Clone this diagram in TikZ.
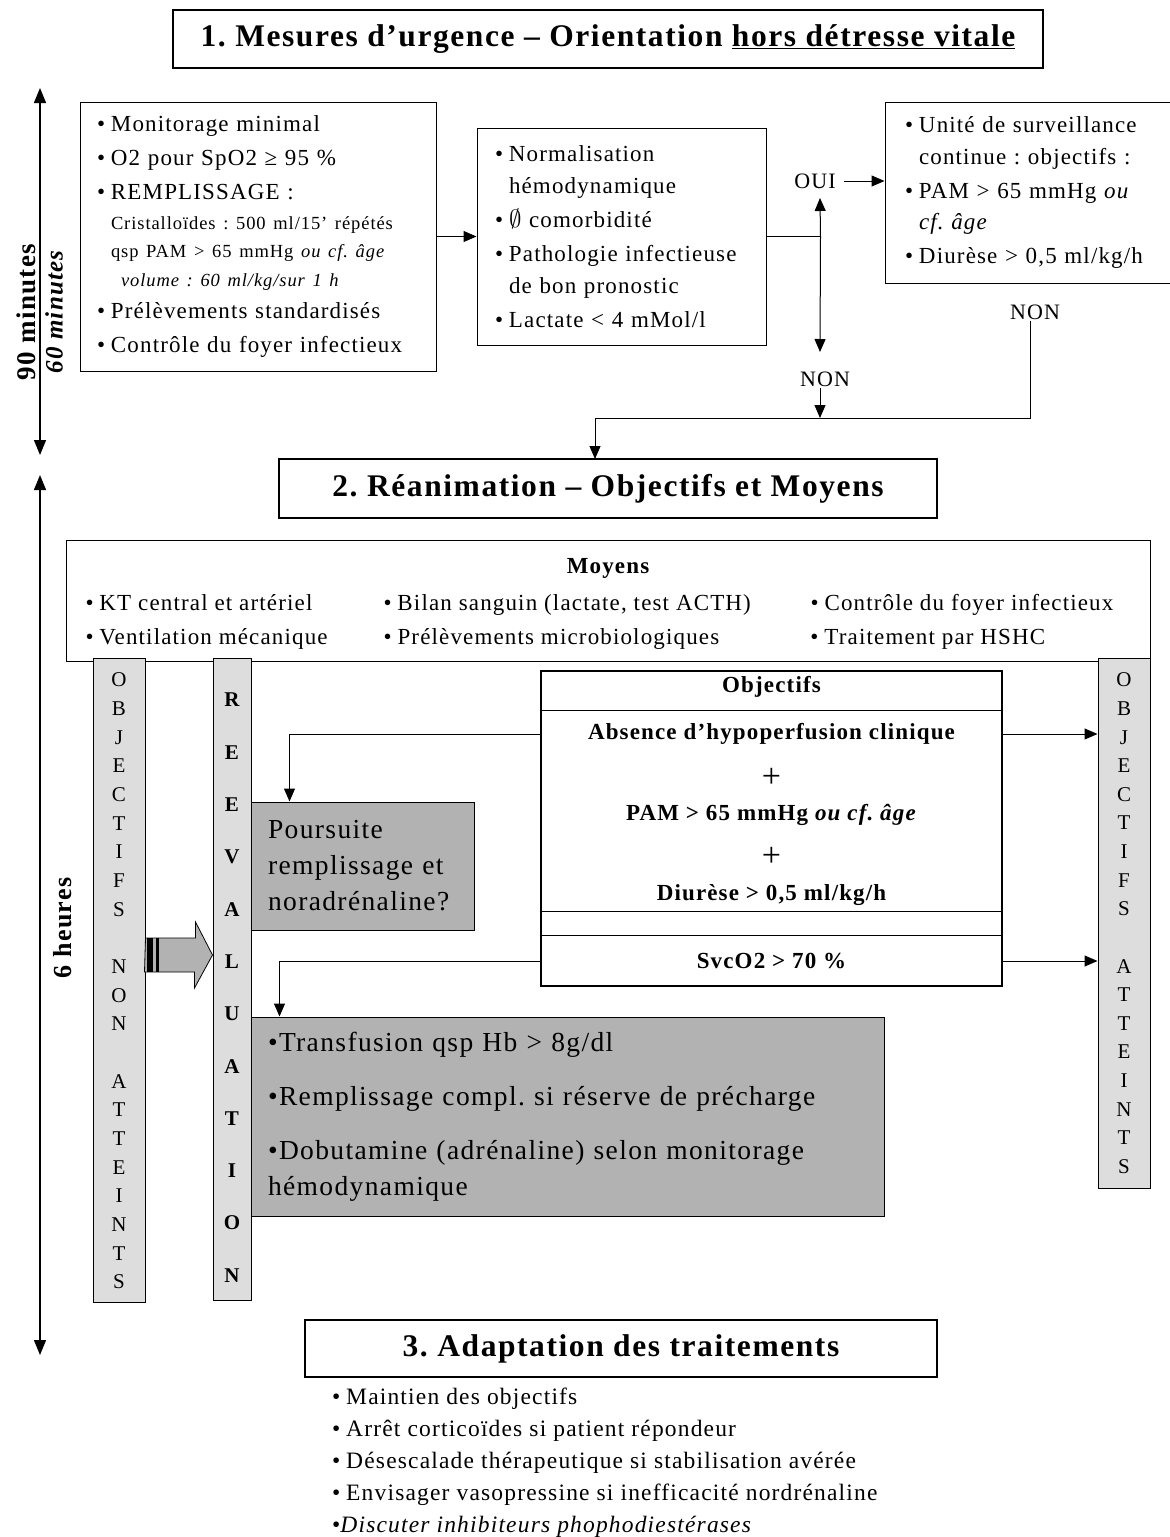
\documentclass[tikz,border=0pt]{standalone}
\usepackage{fontspec}
\setmainfont{Liberation Serif}[LetterSpace=5]
\usetikzlibrary{arrows.meta,positioning}
\definecolor{Sfill}{RGB}{221,221,221}
\definecolor{Gfill}{RGB}{178,178,178}
\newcommand{\bul}{\makebox[14pt][l]{\textbullet}}
\newcommand{\ind}{\hspace*{14pt}}
\frenchspacing

\tikzset{
  titlebox/.style={draw,line width=1.3pt,inner sep=0pt,font=\bfseries\fontsize{31.5}{36}\selectfont},
  infobox/.style={draw,line width=1pt,align=left,inner sep=0pt,font=\fontsize{23}{34}\selectfont},
  stripbox/.style={draw,line width=1pt,fill=Sfill,inner sep=0pt},
  graybox/.style={draw,line width=1pt,fill=Gfill,align=left,inner sep=0pt,font=\fontsize{27.5}{36}\selectfont},
  arr/.style={-{Triangle[length=13pt,width=11pt]},line width=1pt},
  dblarr/.style={{Triangle[length=15pt,width=12pt]}-{Triangle[length=15pt,width=12pt]},line width=1.3pt},
  letter/.style={inner sep=0pt,font=\fontsize{21}{21}\selectfont},
  lbl/.style={inner sep=1pt,font=\fontsize{22}{26}\selectfont},
  objtxt/.style={inner sep=0pt,font=\bfseries\fontsize{23}{26}\selectfont}
}

\begin{document}
\begin{tikzpicture}[x=1pt,y=-1pt,line cap=butt,line join=miter]
\useasboundingbox (0,0) rectangle (1170,1537);

% 1. mesures d'urgence
\node[titlebox,minimum width=870,minimum height=58] (urg-title) at (608,39)
  {1. Mesures d’urgence -- Orientation \underline{hors détresse vitale}};

\coordinate (t1) at (40,88);
\coordinate (b1) at (40,455);
\draw[dblarr] (t1) -- (b1);
\node[rotate=90,inner sep=0pt,font=\bfseries\fontsize{27}{30}\selectfont] (min90) at (26,312) {90 minutes};
\node[rotate=90,inner sep=0pt,font=\bfseries\itshape\fontsize{25}{30}\selectfont] (min60) at (54,312) {60 minutes};

\node[infobox,minimum width=356,minimum height=269,text width=322] (mesures) at (258,236.5) {%
\bul Monitorage minimal\\
\bul O2 pour SpO2 ≥ 95~\%\\
\bul REMPLISSAGE :\\[-4pt]
\ind{\fontsize{18.5}{20}\selectfont Cristalloïdes : 500 ml/15’ répétés}\\[-6pt]
\ind{\fontsize{18.5}{20}\selectfont qsp PAM > 65 mmHg \textit{ou cf. âge}}\\[-5pt]
\hspace*{24pt}{\fontsize{18.5}{20}\selectfont\itshape volume : 60 ml/kg/sur 1 h}\\[-2pt]
\bul Prélèvements standardisés\\
\bul Contrôle du foyer infectieux};

\node[infobox,minimum width=289,minimum height=217,text width=253] (normal) at (621.5,236.5) {%
\bul Normalisation\\[-2pt]
\ind hémodynamique\\
\bul $\emptyset$ comorbidité\\
\bul Pathologie infectieuse\\[-2pt]
\ind de bon pronostic\\
\bul Lactate < 4 mMol/l};

\node[infobox,minimum width=285,minimum height=181,text width=245] (usc) at (1027.5,192.5) {%
\bul Unité de surveillance\\[-2pt]
\ind continue : objectifs :\\
\bul PAM > 65 mmHg \textit{ou}\\[-3pt]
\ind\textit{cf. âge}\\
\bul Diurèse > 0,5 ml/kg/h};

\node[lbl] (oui) at (815,181) {OUI};
\node[lbl] (non1) at (825,379) {NON};
\node[lbl] (non2) at (1035,312) {NON};

\coordinate (fork) at ([xshift=54]normal.east);
\coordinate (oui-in) at (820,198);
\coordinate (non-in) at (820,352);
\coordinate (join) at (820,418);
\coordinate (rea-in) at (595,459);

\draw[arr] (mesures) -- (normal);
\draw (normal.east) -- (fork);
\draw[arr] (fork) -- (oui-in);
\draw[arr] (fork) -- (non-in);
\draw[arr] ([xshift=7]oui.east) -- (usc.west |- oui.east);
\draw[arr] (join |- non1.south) -- (join);
\draw[arr] ([xshift=-5]non2.south) |- (rea-in |- join) -- (rea-in);

% 2. reanimation
\node[titlebox,minimum width=658,minimum height=59] (rea-title) at (608,488.5)
  {2. Réanimation -- Objectifs et Moyens};

\coordinate (t2) at (40,475);
\coordinate (b2) at (40,1355);
\draw[dblarr] (t2) -- (b2);
\node[rotate=90,inner sep=0pt,font=\bfseries\fontsize{26}{30}\selectfont] (sixh) at (63,928) {6 heures};

\node[draw,line width=1pt,minimum width=1084,minimum height=121,inner sep=0pt,align=center,
  font=\fontsize{23}{34}\selectfont] (moyens) at (608,600.5) {%
\raisebox{-8pt}{\bfseries\fontsize{23}{26}\selectfont Moyens}\\[7pt]
\begin{tabular}{@{}p{298pt}@{}p{427pt}@{}p{320pt}@{}}
\bul KT central et artériel & \bul Bilan sanguin (lactate, test ACTH) & \bul Contrôle du foyer infectieux\\
\bul Ventilation mécanique & \bul Prélèvements microbiologiques & \bul Traitement par HSHC
\end{tabular}\\[-19pt]};

\node[stripbox,minimum width=52,minimum height=644] (nonatt) at (119,980) {};
\node[stripbox,minimum width=38,minimum height=642] (reeval) at (232,979) {};
\node[stripbox,minimum width=52,minimum height=530] (atteints) at (1124,923) {};

\foreach \l [count=\i] in {O,B,J,E,C,T,I,F,S,{},N,O,N,{},A,T,T,E,I,N,T,S}
  \node[letter] (na-\i) at (119,{680+(\i-1)*28.67}) {\l};
\foreach \l [count=\i] in {R,E,E,V,A,L,U,A,T,I,O,N}
  \node[letter,font=\bfseries\fontsize{21}{21}\selectfont] (rv-\i) at (232,{700+(\i-1)*52.3}) {\l};
\foreach \l [count=\i] in {O,B,J,E,C,T,I,F,S,{},A,T,T,E,I,N,T,S}
  \node[letter] (oa-\i) at (1124,{680+(\i-1)*28.62}) {\l};

% block arrow towards reevaluation
\coordinate (ba) at ([yshift=25]nonatt.east);
\draw[fill=Gfill,line width=0.8pt] (ba) ++(0,-17) -- ++(50,0) -- ++(0,-16) -- (reeval.west |- ba)
  -- ++(-18,33) -- ++(0,-16) -- ++(-50,0) -- cycle;
\fill (ba) ++(1,-17) rectangle ++(6,34);
\fill (ba) ++(10,-17) rectangle ++(3,34);

\node[graybox,minimum width=223,minimum height=128,text width=189] (poursuite) at (362.5,866) {%
Poursuite\\ remplissage et\\ noradrénaline?};

\node[graybox,minimum width=633,minimum height=199,text width=599] (transf) at (567.5,1116.5) {%
•Transfusion qsp Hb > 8g/dl\\[18pt]
•Remplissage compl. si réserve de précharge\\[18pt]
•Dobutamine (adrénaline) selon monitorage\\
hémodynamique};

% objectifs
\node[draw,line width=2.6pt,minimum width=461,minimum height=315,inner sep=0pt] (objectifs) at (771.5,828.5) {};
\draw[line width=1pt] ([yshift=-41]objectifs.north west) -- ([yshift=-41]objectifs.north east);
\draw[line width=1pt] ([yshift=-242]objectifs.north west) -- ([yshift=-242]objectifs.north east);
\draw[line width=1pt] ([yshift=-266]objectifs.north west) -- ([yshift=-266]objectifs.north east);
\node[objtxt,font=\bfseries\fontsize{23}{26}\selectfont] (obj-head) at (771.5,687) {Objectifs};
\node[objtxt] (obj-abs) at (771.5,734) {Absence d’hypoperfusion clinique};
\node[inner sep=0pt,font=\fontsize{34}{34}\selectfont] (obj-plus1) at (771.5,778) {+};
\node[objtxt] (obj-pam) at (771.5,815) {PAM > 65 mmHg \textit{ou cf. âge}};
\node[inner sep=0pt,font=\fontsize{34}{34}\selectfont] (obj-plus2) at (771.5,857) {+};
\node[objtxt] (obj-diur) at (771.5,895) {Diurèse > 0,5 ml/kg/h};
\node[objtxt] (obj-svc) at (771.5,961) {SvcO2 > 70 \%};

\draw[arr] (objectifs.west |- obj-abs) -| ([xshift=39]poursuite.north west);
\draw[arr] (objectifs.east |- obj-abs) -- (atteints.west |- obj-abs);
\draw[arr] (objectifs.west |- obj-svc) -| ([xshift=29]transf.north west);
\draw[arr] (objectifs.east |- obj-svc) -- (atteints.west |- obj-svc);

% 3. adaptation
\node[titlebox,minimum width=632,minimum height=57] (adapt-title) at (621,1348.5)
  {3. Adaptation des traitements};

\node[align=left,anchor=north west,inner sep=0pt,font=\fontsize{23.5}{32}\selectfont] (adapt-list) at (332,1388) {%
\bul Maintien des objectifs\\
\bul Arrêt corticoïdes si patient répondeur\\
\bul Désescalade thérapeutique si stabilisation avérée\\
\bul Envisager vasopressine si inefficacité nordrénaline\\
•\textit{Discuter inhibiteurs phophodiestérases}};
\end{tikzpicture}
\end{document}
